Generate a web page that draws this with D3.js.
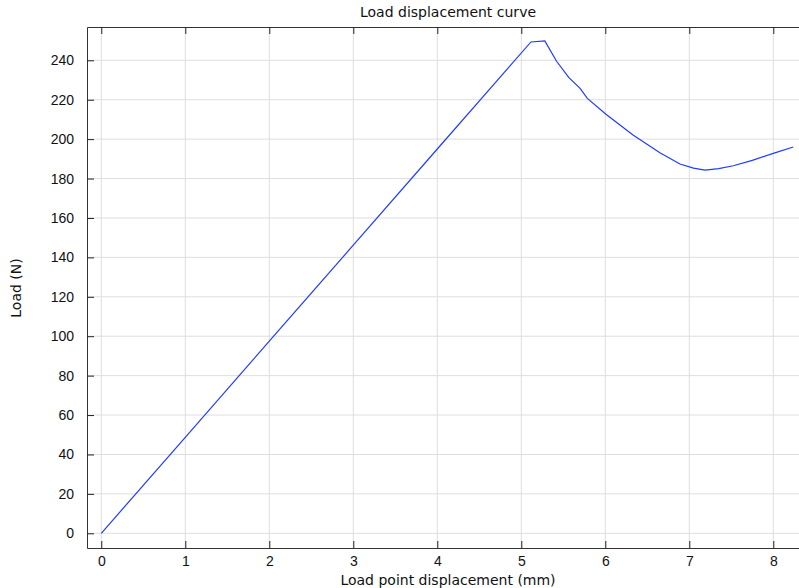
<!DOCTYPE html>
<html>
<head>
<meta charset="utf-8">
<script src="https://cdn.jsdelivr.net/npm/d3@7"></script>
<style>
  body { margin: 0; background: #fff; }
  svg { display: block; font-family: "DejaVu Sans", sans-serif; }
</style>
</head>
<body>
<div id="chart"></div>
<script>
// load point displacement (mm) and load (N)
const displacement = [0, 1, 2, 3, 4, 5.115, 5.28, 5.42, 5.567, 5.70, 5.786, 6.008, 6.33, 6.65, 6.889, 7.05, 7.187, 7.35, 7.524, 7.75, 8.0, 8.238];
const load = [0, 48.7, 97.5, 146.2, 195.0, 249.3, 249.8, 239.5, 231.2, 225.8, 220.7, 212.6, 202.1, 193.1, 187.4, 185.3, 184.3, 185.0, 186.5, 189.2, 192.8, 196.0];
const xTicks = [0, 1, 2, 3, 4, 5, 6, 7, 8];
const yTicks = [0, 20, 40, 60, 80, 100, 120, 140, 160, 180, 200, 220, 240];

const data = displacement.map((d, i) => ({ x: d, y: load[i] }));

const width = 799, height = 588;
const margin = { top: 27, right: 0, bottom: 40, left: 87 };
const fontSize = 14;

const x = d3.scaleLinear().domain([-0.17, 8.306]).range([margin.left, width - margin.right]);
const y = d3.scaleLinear().domain([-7.46, 256.9]).range([height - margin.bottom, margin.top]);

const svg = d3.select("#chart").append("svg")
  .attr("width", width)
  .attr("height", height);

// grid
svg.append("g")
  .selectAll("line.vgrid")
  .data(xTicks)
  .join("line")
  .attr("x1", d => x(d)).attr("x2", d => x(d))
  .attr("y1", margin.top).attr("y2", height - margin.bottom)
  .attr("stroke", "#dedede");

svg.append("g")
  .selectAll("line.hgrid")
  .data(yTicks)
  .join("line")
  .attr("x1", margin.left).attr("x2", width - margin.right)
  .attr("y1", d => y(d)).attr("y2", d => y(d))
  .attr("stroke", "#dedede");

// curve
svg.append("path")
  .datum(data)
  .attr("fill", "none")
  .attr("stroke", "#1f3cff")
  .attr("stroke-width", 1.2)
  .attr("d", d3.line().x(d => x(d.x)).y(d => y(d.y)));

// axes with inward ticks
const styleAxis = g => {
  g.select(".domain").attr("stroke", "#333");
  g.selectAll(".tick line").attr("stroke", "#222");
  g.selectAll(".tick text").attr("fill", "#111").attr("font-size", fontSize);
};

svg.append("g")
  .attr("transform", `translate(0,${height - margin.bottom})`)
  .call(d3.axisBottom(x).tickValues(xTicks).tickSizeInner(-7).tickSizeOuter(0).tickPadding(8))
  .call(styleAxis);

svg.append("g")
  .attr("transform", `translate(0,${margin.top})`)
  .call(d3.axisTop(x).tickValues(xTicks).tickSizeInner(-7).tickSizeOuter(0).tickFormat(""))
  .call(styleAxis);

svg.append("g")
  .attr("transform", `translate(${margin.left},0)`)
  .call(d3.axisLeft(y).tickValues(yTicks).tickSizeInner(-7).tickSizeOuter(0).tickPadding(13))
  .call(styleAxis);

// titles
svg.append("text")
  .attr("x", (margin.left + width) / 2 + 5)
  .attr("y", 17)
  .attr("text-anchor", "middle")
  .attr("font-size", fontSize)
  .attr("fill", "#111")
  .text("Load displacement curve");

svg.append("text")
  .attr("x", (margin.left + width) / 2 + 5)
  .attr("y", 585)
  .attr("text-anchor", "middle")
  .attr("font-size", fontSize)
  .attr("fill", "#111")
  .text("Load point displacement (mm)");

svg.append("text")
  .attr("transform", "translate(21,288) rotate(-90)")
  .attr("text-anchor", "middle")
  .attr("font-size", fontSize)
  .attr("fill", "#111")
  .text("Load (N)");
</script>
</body>
</html>
